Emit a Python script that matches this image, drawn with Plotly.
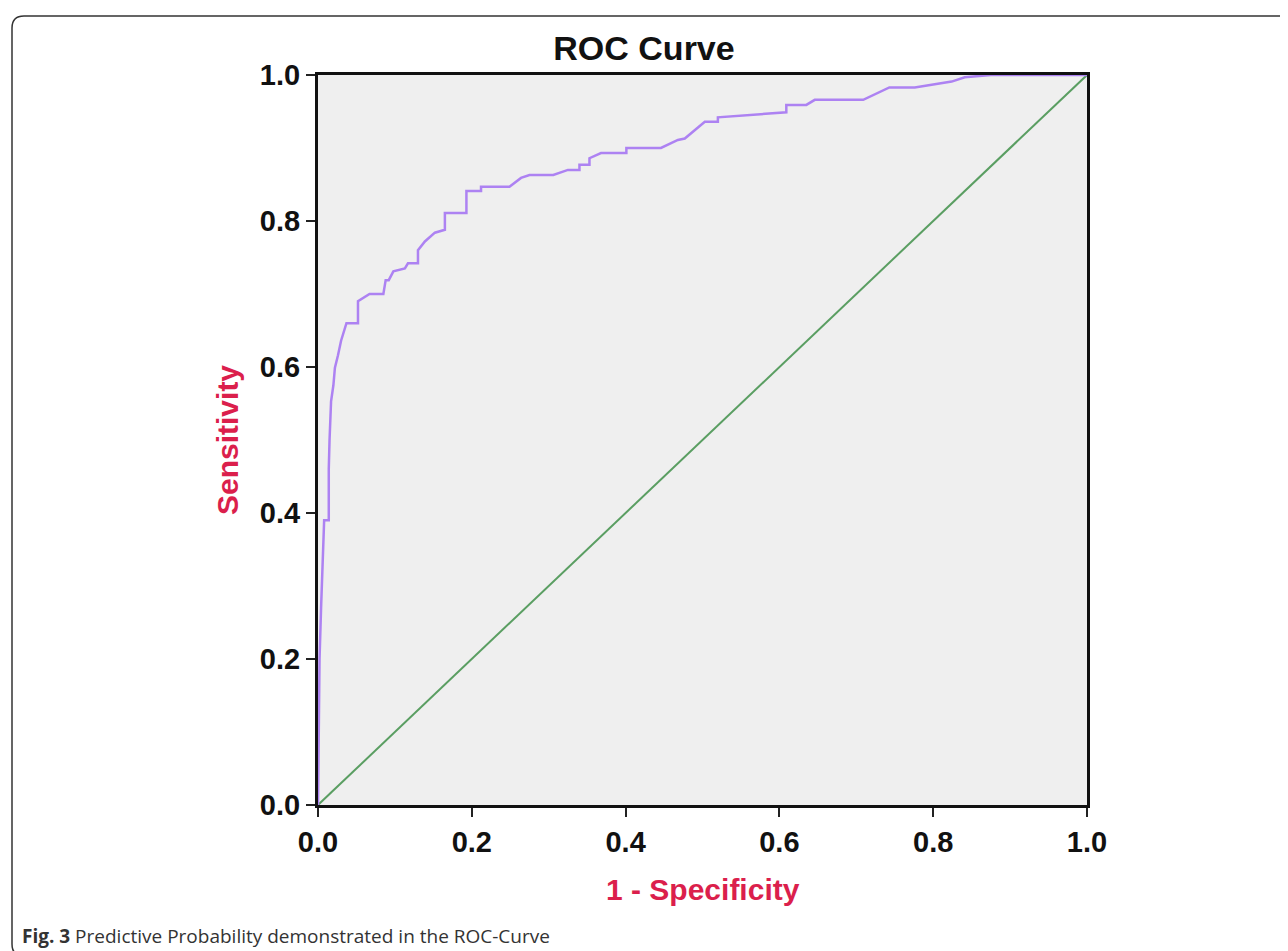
import plotly.graph_objects as go

# ROC curve data (1 - specificity, sensitivity)
fpr = [0.0, 0.002, 0.004, 0.006, 0.008, 0.014, 0.014, 0.015, 0.017, 0.020, 0.022,
       0.026, 0.030, 0.037, 0.052, 0.052, 0.059, 0.067, 0.085, 0.088, 0.092, 0.098,
       0.113, 0.117, 0.130, 0.130, 0.139, 0.152, 0.165, 0.165, 0.193, 0.193, 0.212,
       0.212, 0.249, 0.264, 0.275, 0.306, 0.325, 0.340, 0.340, 0.353, 0.353, 0.368,
       0.401, 0.401, 0.446, 0.468, 0.477, 0.503, 0.520, 0.520, 0.609, 0.609, 0.635,
       0.646, 0.709, 0.743, 0.776, 0.824, 0.841, 0.875, 1.0]
tpr = [0.0, 0.20, 0.27, 0.33, 0.39, 0.39, 0.46, 0.50, 0.553, 0.575, 0.599,
       0.616, 0.636, 0.660, 0.660, 0.690, 0.695, 0.700, 0.700, 0.719, 0.719, 0.731,
       0.735, 0.742, 0.742, 0.760, 0.772, 0.784, 0.788, 0.811, 0.811, 0.841, 0.841,
       0.847, 0.847, 0.859, 0.863, 0.863, 0.870, 0.870, 0.877, 0.877, 0.886, 0.893,
       0.893, 0.900, 0.900, 0.911, 0.913, 0.936, 0.936, 0.942, 0.949, 0.959, 0.959,
       0.966, 0.966, 0.983, 0.983, 0.991, 0.997, 1.0, 1.0]
ref_x = [0.0, 1.0]
ref_y = [0.0, 1.0]
tick_vals = [0.0, 0.2, 0.4, 0.6, 0.8, 1.0]
tick_text = ["0.0", "0.2", "0.4", "0.6", "0.8", "1.0"]

W, H = 1288, 951
L, R, T, B = 310, 1079, 67, 797


def px(x):
    return (x - L) / (R - L)


def py(y):
    return (B - y) / (B - T)


fig = go.Figure()
fig.add_trace(go.Scatter(x=ref_x, y=ref_y, mode="lines",
                         line=dict(color="#5a9e62", width=2), hoverinfo="skip"))
fig.add_trace(go.Scatter(x=fpr, y=tpr, mode="lines",
                         line=dict(color="#ad82f2", width=2.5), hoverinfo="skip"))

font_family = "Liberation Sans, Arial, sans-serif"
axis_common = dict(
    range=[0, 1], tickvals=tick_vals,
    ticktext=["<b>%s</b>" % t for t in tick_text],
    showgrid=False, zeroline=False,
    showline=True, linecolor="#111111", linewidth=3, mirror=True,
    ticks="outside", ticklen=9, tickwidth=2, tickcolor="#222222",
    tickfont=dict(family=font_family, size=29, color="#111111"),
)

fig.update_layout(
    width=W, height=H,
    margin=dict(l=L, r=W - R, t=T, b=H - B),
    paper_bgcolor="white", plot_bgcolor="#efefef",
    showlegend=False,
    title=dict(text="<b>ROC Curve</b>", xref="paper", x=px(636), xanchor="center",
               yref="container", y=1 - 40 / H, yanchor="middle",
               font=dict(family=font_family, size=34, color="#111111")),
    xaxis=dict(**axis_common),
    yaxis=dict(**axis_common),
)

annots = [
    dict(text="<b>1 - Specificity</b>", x=0.5, y=py(881), xref="paper", yref="paper",
         xanchor="center", yanchor="middle", showarrow=False,
         font=dict(family=font_family, size=30, color="#db1f4c")),
    dict(text="<b>Sensitivity</b>", x=px(219), y=0.5, xref="paper", yref="paper",
         xanchor="center", yanchor="middle", showarrow=False, textangle=-90,
         font=dict(family=font_family, size=30, color="#db1f4c")),
    dict(text="<b>Fig. 3</b> Predictive Probability demonstrated in the ROC-Curve",
         x=px(12), y=py(928), xref="paper", yref="paper",
         xanchor="left", yanchor="middle", showarrow=False,
         font=dict(family="Open Sans, sans-serif", size=19, color="#333333")),
]
fig.update_layout(annotations=annots)

# figure frame (rounded at left corners)
path = ("M %f,%f L %f,%f Q %f,%f %f,%f L %f,%f Q %f,%f %f,%f L %f,%f" % (
    px(1292), py(8), px(16), py(8), px(4), py(8), px(4), py(20),
    px(4), py(936), px(4), py(948), px(16), py(948), px(40), py(948)))
fig.add_shape(type="path", path=path, xref="paper", yref="paper",
              line=dict(color="#333333", width=1.5), layer="above")

fig.write_html("out.html")
